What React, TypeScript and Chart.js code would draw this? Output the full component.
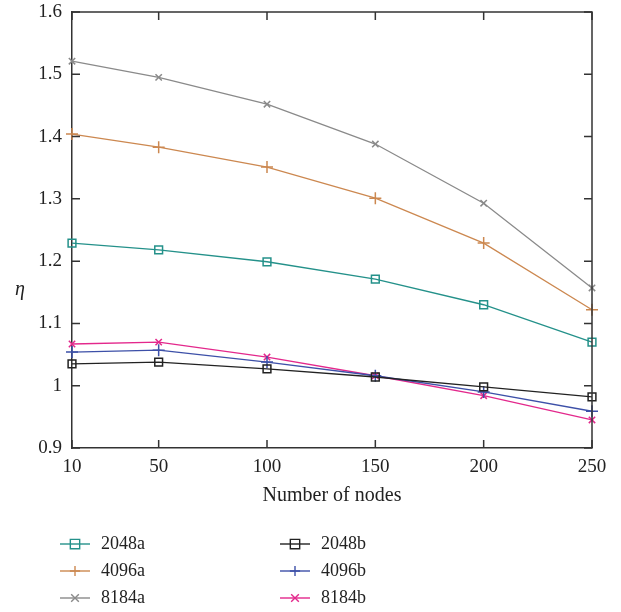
import React, { useEffect, useRef } from "react";
import { Chart, registerables } from "chart.js";

Chart.register(...registerables);

const nodes = [10, 50, 100, 150, 200, 250];
const xTicks = [10, 50, 100, 150, 200, 250];
const s2048a = [1.229, 1.218, 1.199, 1.171, 1.13, 1.07];
const s4096a = [1.404, 1.383, 1.351, 1.301, 1.229, 1.122];
const s8184a = [1.521, 1.495, 1.452, 1.388, 1.293, 1.157];
const s2048b = [1.035, 1.038, 1.027, 1.014, 0.998, 0.982];
const s4096b = [1.054, 1.057, 1.038, 1.016, 0.99, 0.959];
const s8184b = [1.067, 1.07, 1.046, 1.016, 0.984, 0.945];
const seriesNames = ["2048a", "4096a", "8184a", "2048b", "4096b", "8184b"];

const SERIF = "'Liberation Serif', 'DejaVu Serif', serif";

const styles = [
  { color: "#24918a", point: "rect", r: 5.5 },
  { color: "#cc8850", point: "cross", r: 6 },
  { color: "#8a8a8a", point: "crossRot", r: 4.5 },
  { color: "#222222", point: "rect", r: 5.5 },
  { color: "#3d50a8", point: "cross", r: 6 },
  { color: "#e3288c", point: "crossRot", r: 4.5 },
];

function drawMarker(ctx: CanvasRenderingContext2D, kind: string, x: number, y: number, r: number) {
  ctx.beginPath();
  if (kind === "rect") {
    ctx.rect(x - r, y - r, 2 * r, 2 * r);
  } else if (kind === "cross") {
    ctx.moveTo(x - r, y);
    ctx.lineTo(x + r, y);
    ctx.moveTo(x, y - r);
    ctx.lineTo(x, y + r);
  } else {
    ctx.moveTo(x - r, y - r);
    ctx.lineTo(x + r, y + r);
    ctx.moveTo(x + r, y - r);
    ctx.lineTo(x - r, y + r);
  }
  ctx.stroke();
}

const decorPlugin = {
  id: "decor",
  afterDraw(chart: any) {
    const ctx: CanvasRenderingContext2D = chart.ctx;
    const { left, right, top, bottom } = chart.chartArea;
    const xs = chart.scales.x;
    const ys = chart.scales.y;
    ctx.save();
    ctx.strokeStyle = "#333333";
    ctx.lineWidth = 1.5;
    ctx.beginPath();
    ctx.moveTo(left, top);
    ctx.lineTo(right, top);
    ctx.lineTo(right, bottom);
    ctx.stroke();
    const tl = 8;
    ctx.beginPath();
    xs.ticks.forEach((t: any) => {
      const px = xs.getPixelForValue(t.value);
      ctx.moveTo(px, bottom);
      ctx.lineTo(px, bottom - tl);
      ctx.moveTo(px, top);
      ctx.lineTo(px, top + tl);
    });
    ys.ticks.forEach((t: any) => {
      const py = ys.getPixelForValue(t.value);
      ctx.moveTo(left, py);
      ctx.lineTo(left + tl, py);
      ctx.moveTo(right, py);
      ctx.lineTo(right - tl, py);
    });
    ctx.stroke();

    ctx.fillStyle = "#222222";
    ctx.font = `20px ${SERIF}`;
    ctx.textAlign = "center";
    ctx.textBaseline = "middle";
    ctx.fillText("Number of nodes", (left + right) / 2, 496);
    ctx.font = `italic 20px ${SERIF}`;
    ctx.fillText("η", 20, 290);

    // legend
    ctx.font = `18px ${SERIF}`;
    ctx.textAlign = "left";
    chart.data.datasets.forEach((ds: any, i: number) => {
      const col = i < 3 ? 0 : 1;
      const row = i % 3;
      const x0 = col === 0 ? 60 : 280;
      const y0 = 544 + row * 27;
      const st = styles[i];
      ctx.strokeStyle = st.color;
      ctx.lineWidth = 1.4;
      ctx.beginPath();
      ctx.moveTo(x0, y0);
      ctx.lineTo(x0 + 30, y0);
      ctx.stroke();
      drawMarker(ctx, st.point, x0 + 15, y0, st.r * 0.85);
      ctx.fillStyle = "#222222";
      ctx.fillText(ds.label, x0 + 41, y0);
    });
    ctx.restore();
  },
};

export default function App() {
  const ref = useRef<HTMLCanvasElement>(null);
  useEffect(() => {
    const values = [s2048a, s4096a, s8184a, s2048b, s4096b, s8184b];
    const chart = new Chart(ref.current!, {
      type: "line",
      data: {
        datasets: values.map((v, i) => ({
          label: seriesNames[i],
          data: nodes.map((n, j) => ({ x: n, y: v[j] })),
          borderColor: styles[i].color,
          backgroundColor: "transparent",
          borderWidth: 1.3,
          pointStyle: styles[i].point as any,
          pointRadius: styles[i].r,
          pointBorderWidth: 1.5,
          pointBorderColor: styles[i].color,
          pointBackgroundColor: "transparent",
          tension: 0,
          clip: false as any,
        })),
      },
      options: {
        animation: false,
        responsive: false,
        layout: { padding: { left: 0, top: 12, right: 29, bottom: 0 } },
        plugins: { legend: { display: false }, tooltip: { enabled: false } },
        scales: {
          x: {
            type: "linear",
            min: 10,
            max: 250,
            afterBuildTicks: (scale: any) => {
              scale.ticks = xTicks.map((v) => ({ value: v }));
            },
            afterFit: (scale: any) => {
              scale.height = 612 - 448;
              scale.paddingLeft = 0;
              scale.paddingRight = 0;
            },
            grid: { display: false, drawTicks: false },
            border: { display: true, color: "#333333", width: 1.5 },
            ticks: {
              color: "#222222",
              font: { family: SERIF, size: 19 },
              padding: 8,
              maxRotation: 0,
              autoSkip: false,
            },
          },
          y: {
            min: 0.9,
            max: 1.6,
            afterFit: (scale: any) => {
              scale.width = 72;
              scale.paddingTop = 0;
              scale.paddingBottom = 0;
            },
            grid: { display: false, drawTicks: false },
            border: { display: true, color: "#333333", width: 1.5 },
            ticks: {
              stepSize: 0.1,
              color: "#222222",
              font: { family: SERIF, size: 19 },
              padding: 10,
              callback: (v: any) => String(Number(Number(v).toFixed(1))),
            },
          },
        },
      },
      plugins: [decorPlugin],
    });
    return () => chart.destroy();
  }, []);
  return (
    <div style={{ position: "absolute", left: 0, top: 0, width: 621, height: 612, background: "#fff" }}>
      <canvas ref={ref} width={621} height={612} style={{ width: 621, height: 612 }} />
    </div>
  );
}
